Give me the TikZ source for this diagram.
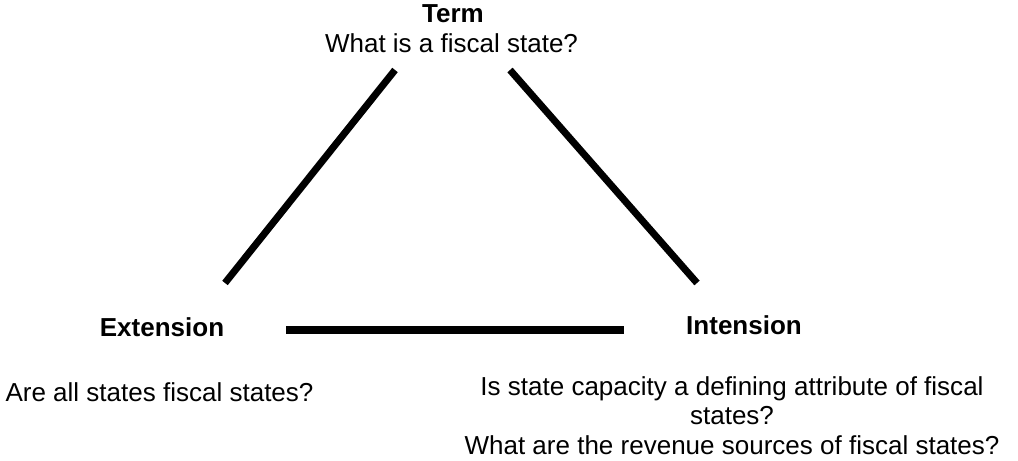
\documentclass[tikz,border=0pt]{standalone}
\usepackage{fontspec}
\setmainfont{Liberation Sans}

\begin{document}
\begin{tikzpicture}[
  every node/.style={font=\fontsize{14.8}{16.6}\selectfont,inner sep=0pt},
  heading/.style={font=\fontsize{14.8}{16.6}\selectfont\bfseries},
  side/.style={line width=4pt,line cap=butt}]
  \useasboundingbox (0,0) rectangle (20.36,9.22);
  % the three corners
  \node[heading,anchor=base] (term) at (9.06,8.76) {Term};
  \node[anchor=base] (termq) at (9.03,8.16) {What is a fiscal state?};
  \node[heading,anchor=base] (ext) at (3.24,2.48) {Extension};
  \node[heading,anchor=base] (int) at (14.88,2.52) {Intension};
  \node[anchor=base] (extq) at (3.19,1.18) {Are all states fiscal states?};
  \node[anchor=north,align=center] (intq) at (14.64,1.69)
    {Is state capacity a defining attribute of fiscal\\states?\\What are the revenue sources of fiscal states?};
  % ends of the sides
  \coordinate (ext-end) at (4.5,3.56);
  \coordinate (term-l) at (7.9,7.82);
  \coordinate (term-r) at (10.2,7.82);
  \coordinate (int-end) at (13.94,3.56);
  \coordinate (base-l) at (5.72,2.62);
  \coordinate (base-r) at (12.48,2.62);
  \draw[side] (ext-end) -- (term-l);
  \draw[side] (term-r) -- (int-end);
  \draw[side] (base-l) -- (base-r);
\end{tikzpicture}
\end{document}
